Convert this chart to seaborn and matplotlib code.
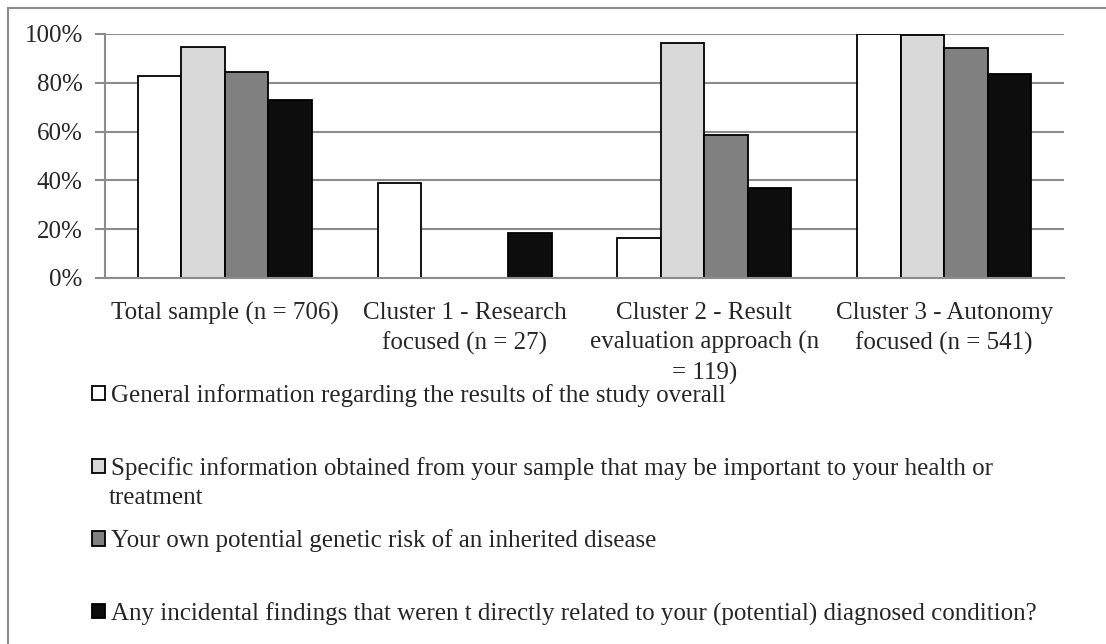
import matplotlib
matplotlib.use("Agg")
import matplotlib.pyplot as plt
from matplotlib.patches import Rectangle
import seaborn as sns
import pandas as pd

# ---- data ----
categories = [
    "Total sample (n = 706)",
    "Cluster 1 - Research\nfocused (n = 27)",
    "Cluster 2 - Result\nevaluation approach (n\n= 119)",
    "Cluster 3 - Autonomy\nfocused (n = 541)",
]
series_names = [
    "General information regarding the results of the study overall",
    "Specific information obtained from your sample that may be important to your health or",
    "Your own potential genetic risk of an inherited disease",
    "Any incidental findings that weren t directly related to your (potential) diagnosed condition?",
]
general_info = [82.7, 38.8, 16.5, 100.0]
specific_info = [94.8, 0.0, 96.4, 99.6]
genetic_risk = [84.4, 0.0, 58.8, 94.4]
incidental = [73.1, 18.5, 36.7, 83.8]
ytick_values = [0, 20, 40, 60, 80, 100]
ytick_labels = ["0%", "20%", "40%", "60%", "80%", "100%"]
colors = ["#FFFFFF", "#D9D9D9", "#808080", "#0D0D0D"]

rows = []
for name, vals in zip(series_names, [general_info, specific_info, genetic_risk, incidental]):
    for cat, v in zip(categories, vals):
        rows.append({"category": cat, "series": name, "value": v})
df = pd.DataFrame(rows)

sns.set_style("white")
plt.rcParams["font.family"] = ["Liberation Serif", "DejaVu Serif"]
FS = 18
grid_col = "#8C8C8C"

fig = plt.figure(figsize=(11.06, 6.44), dpi=100)
ax = fig.add_axes([105 / 1106, 1 - 278 / 644, (1064 - 105) / 1106, (278 - 34) / 644])

sns.barplot(data=df, x="category", y="value", hue="series", order=categories,
            hue_order=series_names, palette=colors, edgecolor="black",
            linewidth=1.3, width=0.725, gap=0, ax=ax, legend=False, zorder=3)

for p in ax.patches:
    if p.get_height() == 0:
        p.set_linewidth(0)

ax.set_ylim(0, 100)
ax.set_xlim(-0.5, len(categories) - 0.5)
ax.set_yticks(ytick_values)
ax.set_yticklabels(ytick_labels, fontsize=FS)
ax.yaxis.grid(True, color=grid_col, linewidth=1.5, zorder=0)
ax.set_axisbelow(True)
ax.set_xticks(range(len(categories)))
ax.set_xticklabels(categories, fontsize=FS, linespacing=1.42, va="top")
ax.set_xticks([i - 0.5 for i in range(len(categories) + 1)], minor=True)
ax.tick_params(axis="x", which="major", length=0, pad=17)
ax.tick_params(axis="x", which="minor", length=7, width=1.5, color=grid_col, direction="out")
ax.tick_params(axis="y", length=7, width=1.5, color=grid_col, direction="out", pad=9, left=True)
ax.set_xlabel("")
ax.set_ylabel("")
for s in ["top", "right"]:
    ax.spines[s].set_visible(False)
for s in ["left", "bottom"]:
    ax.spines[s].set_color(grid_col)
    ax.spines[s].set_linewidth(1.5)
    ax.spines[s].set_zorder(4)

# legend
handles = [Rectangle((0, 0), 1, 1, facecolor=c, edgecolor="black", linewidth=1.3) for c in colors]
leg = fig.legend(handles, series_names, loc="upper left",
                 bbox_to_anchor=(92 / 1106, 1 - 384 / 644), frameon=False,
                 fontsize=FS, handlelength=0.5, handleheight=0.5, handletextpad=0.25,
                 labelspacing=1.99, borderpad=0, borderaxespad=0)
fig.text(109 / 1106, 1 - 498 / 644, "treatment", fontsize=FS, va="center", ha="left")

# figure border
fig.patches.append(Rectangle((8 / 1106, -0.1), 1.2, 1 - 8 / 644 + 0.1,
                             transform=fig.transFigure, fill=False,
                             edgecolor="#8C8C8C", linewidth=1.5))

fig.savefig("out.png", dpi=100)
